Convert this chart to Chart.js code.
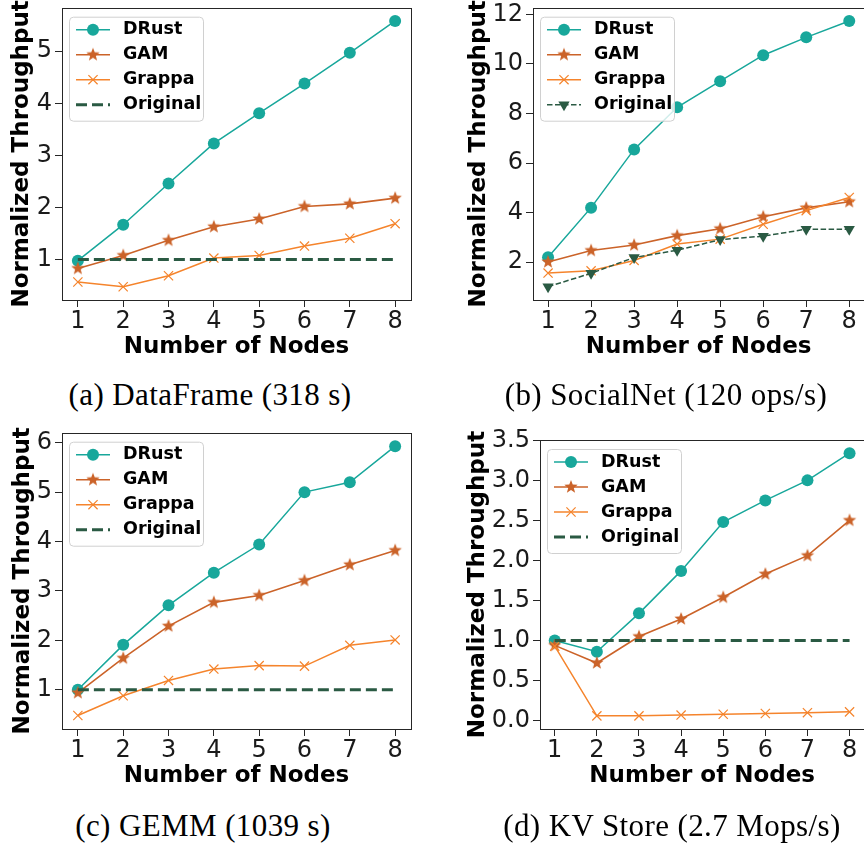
<!DOCTYPE html>
<html>
<head>
<meta charset="utf-8">
<script src="https://cdn.jsdelivr.net/npm/chart.js@4"></script>
<style>
  html, body { margin: 0; padding: 0; background: #fff; width: 864px; height: 847px; overflow: hidden; position: relative; }
  canvas { position: absolute; }
  .cap { position: absolute; font-family: 'Liberation Serif', serif; font-size: 31px; letter-spacing: 0.4px; color: #000; white-space: nowrap; transform: translate(-50%, -50%); }
</style>
</head>
<body>
<canvas id="pa" width="440" height="365" style="left:0;top:0"></canvas>
<canvas id="pb" width="440" height="365" style="left:432px;top:0"></canvas>
<canvas id="pc" width="440" height="369" style="left:0;top:425px"></canvas>
<canvas id="pd" width="440" height="369" style="left:432px;top:425px"></canvas>
<div class="cap" style="left:210px;top:395px">(a) DataFrame (318 s)</div>
<div class="cap" style="left:666px;top:395px">(b) SocialNet (120 ops/s)</div>
<div class="cap" style="left:203px;top:826px">(c) GEMM (1039 s)</div>
<div class="cap" style="left:672px;top:826px">(d) KV Store (2.7 Mops/s)</div>
<script>
/* DATA */
const nodes = [1, 2, 3, 4, 5, 6, 7, 8]

// (a) DataFrame
const dfDrust = [0.98, 1.67, 2.46, 3.23, 3.81, 4.38, 4.97, 5.58]
const dfGam = [0.83, 1.08, 1.37, 1.63, 1.78, 2.02, 2.07, 2.18]
const dfGrappa = [0.57, 0.48, 0.69, 1.03, 1.08, 1.26, 1.41, 1.69]
const dfOrig = [1, 1, 1, 1, 1, 1, 1, 1]
const dfTicks = [1, 2, 3, 4, 5]

// (b) SocialNet
const snDrust = [2.2, 4.2, 6.55, 8.25, 9.3, 10.35, 11.07, 11.73]
const snGam = [2.01, 2.47, 2.69, 3.07, 3.35, 3.83, 4.19, 4.44]
const snGrappa = [1.56, 1.65, 2.07, 2.73, 2.93, 3.53, 4.08, 4.61]
const snOrig = [1.01, 1.55, 2.19, 2.48, 2.91, 3.05, 3.33, 3.33]
const snTicks = [2, 4, 6, 8, 10, 12]

// (c) GEMM
const gmDrust = [1.0, 1.91, 2.71, 3.37, 3.94, 5.0, 5.2, 5.93]
const gmGam = [0.94, 1.64, 2.29, 2.77, 2.91, 3.21, 3.53, 3.82]
const gmGrappa = [0.48, 0.88, 1.19, 1.42, 1.49, 1.48, 1.90, 2.01]
const gmOrig = [1, 1, 1, 1, 1, 1, 1, 1]
const gmTicks = [1, 2, 3, 4, 5, 6]

// (d) KV Store
const kvDrust = [1.0, 0.86, 1.34, 1.87, 2.48, 2.75, 3.0, 3.34]
const kvGam = [0.94, 0.72, 1.05, 1.27, 1.54, 1.83, 2.06, 2.50]
const kvGrappa = [0.93, 0.06, 0.06, 0.07, 0.08, 0.09, 0.10, 0.11]
const kvOrig = [1, 1, 1, 1, 1, 1, 1, 1]
const kvTicks = [0, 0.5, 1, 1.5, 2, 2.5, 3, 3.5]

/* STYLE */
const TEAL = '#18a79b', GAM = '#cb6329', GRAPPA = '#f5842c', ORIG = '#2a5a43'
const SANS = "'DejaVu Sans', sans-serif"

function makeStar(color, r) {
  const c = document.createElement('canvas')
  const s = Math.ceil(r * 2) + 2
  c.width = c.height = s
  const g = c.getContext('2d')
  g.fillStyle = color
  g.beginPath()
  for (let k = 0; k < 10; k++) {
    const rad = k % 2 ? r * 0.42 : r
    const ang = -Math.PI / 2 + k * Math.PI / 5
    g.lineTo(s / 2 + rad * Math.cos(ang), s / 2 + rad * Math.sin(ang))
  }
  g.closePath()
  g.fill()
  return c
}
const starImg = makeStar(GAM, 7)

const series = vals => nodes.map((n, i) => ({ x: n, y: vals[i] }))

const drust = v => ({ label: 'DRust', data: series(v), borderColor: TEAL, backgroundColor: TEAL,
  pointBackgroundColor: TEAL, pointBorderColor: TEAL, pointStyle: 'circle', pointRadius: 6,
  pointBorderWidth: 0, borderWidth: 1.5, order: 3 })
const gam = v => ({ label: 'GAM', data: series(v), borderColor: GAM, backgroundColor: GAM,
  pointBackgroundColor: GAM, pointBorderColor: GAM, pointStyle: starImg, pointRadius: 6,
  pointBorderWidth: 0, borderWidth: 1.6, order: 2 })
const grappa = v => ({ label: 'Grappa', data: series(v), borderColor: GRAPPA, backgroundColor: GRAPPA,
  pointBackgroundColor: GRAPPA, pointBorderColor: GRAPPA, pointStyle: 'crossRot', pointRadius: 6.5,
  pointBorderWidth: 1.2, borderWidth: 1.5, order: 1 })
const origFlat = v => ({ label: 'Original', data: series(v), borderColor: ORIG, backgroundColor: ORIG,
  pointRadius: 0, borderWidth: 3, borderDash: [11, 5], order: 0 })
const origTri = v => ({ label: 'Original', data: series(v), borderColor: ORIG, backgroundColor: ORIG,
  pointBackgroundColor: ORIG, pointBorderColor: ORIG, pointStyle: 'triangle', pointRotation: 180,
  pointRadius: 6.5, pointBorderWidth: 0, borderWidth: 1.5, borderDash: [5.5, 2.5], order: 0 })

/* legend box in the top-left corner of each plot */
const boxLegend = {
  id: 'boxLegend',
  afterDatasetsDraw(chart) {
    const ctx = chart.ctx, a = chart.chartArea
    const x0 = a.left + 7, y0 = a.top + 9, w = 134, h = 104
    ctx.save()
    ctx.beginPath()
    ctx.roundRect(x0 + 0.5, y0 + 0.5, w, h, 4)
    ctx.fillStyle = 'rgba(255,255,255,0.8)'
    ctx.fill()
    ctx.strokeStyle = '#d0d0d0'
    ctx.lineWidth = 1
    ctx.stroke()
    chart.data.datasets.forEach((ds, i) => {
      const y = y0 + 13 + i * 25
      ctx.strokeStyle = ds.borderColor
      ctx.lineWidth = ds.borderWidth
      ctx.setLineDash(ds.borderDash || [])
      ctx.beginPath()
      ctx.moveTo(x0 + 7, y)
      ctx.lineTo(x0 + 41, y)
      ctx.stroke()
      ctx.setLineDash([])
      if (ds.pointRadius > 0) {
        ctx.fillStyle = ds.pointBackgroundColor
        ctx.strokeStyle = ds.pointBorderColor
        ctx.lineWidth = ds.pointBorderWidth
        Chart.helpers.drawPoint(ctx, { pointStyle: ds.pointStyle, radius: ds.pointRadius,
          rotation: ds.pointRotation || 0, borderWidth: ds.pointBorderWidth }, x0 + 24, y)
      }
      ctx.fillStyle = '#000'
      ctx.font = 'bold 17.5px ' + SANS
      ctx.textBaseline = 'middle'
      ctx.textAlign = 'left'
      ctx.fillText(ds.label, x0 + 54, y)
    })
    ctx.restore()
  }
}

/* full frame round the plot area */
const frame = {
  id: 'frame',
  afterDraw(chart) {
    const ctx = chart.ctx, a = chart.chartArea
    ctx.save()
    ctx.strokeStyle = '#262626'
    ctx.lineWidth = 1
    ctx.strokeRect(Math.round(a.left) + 0.5, Math.round(a.top) + 0.5,
      Math.round(a.right - a.left), Math.round(a.bottom - a.top))
    ctx.restore()
  }
}

function makeChart(id, area, datasets, yTicks, yFmt, titleC) {
  const canvas = document.getElementById(id)
  const W = canvas.width, H = canvas.height
  const all = datasets.flatMap(d => d.data.map(p => p.y))
  const lo = Math.min(...all), hi = Math.max(...all), m = (hi - lo) * 0.05
  const tickFont = { family: SANS, size: 24 }
  return new Chart(canvas, {
    type: 'line',
    data: { datasets },
    options: {
      responsive: false,
      devicePixelRatio: 1,
      animation: false,
      layout: { padding: { left: 0, top: area.t, right: W - area.r, bottom: 0 } },
      plugins: { legend: { display: false }, tooltip: { enabled: false } },
      elements: { line: { tension: 0 } },
      scales: {
        x: {
          type: 'linear', min: 0.65, max: 8.35,
          afterBuildTicks: s => { s.ticks = nodes.map(v => ({ value: v })) },
          afterFit: s => { s.height = H - area.b; s.paddingLeft = s.paddingRight = 0 },
          grid: { display: true, drawOnChartArea: false, drawTicks: true, tickLength: 7, color: '#262626' },
          border: { display: false },
          ticks: { font: tickFont, color: '#1a1a1a', padding: 0, maxRotation: 0 },
          title: { display: true, text: 'Number of Nodes', color: '#000',
            font: { family: SANS, size: 23, weight: 'bold' }, padding: { top: 0, bottom: 4 } }
        },
        y: {
          type: 'linear', min: lo - m, max: hi + m,
          afterBuildTicks: s => { s.ticks = yTicks.map(v => ({ value: v })) },
          afterFit: s => { s.width = area.l; s.paddingTop = s.paddingBottom = 0 },
          grid: { display: true, drawOnChartArea: false, drawTicks: true, tickLength: 7, color: '#262626' },
          border: { display: false },
          ticks: { font: tickFont, color: '#1a1a1a', padding: 3, callback: yFmt },
          title: { display: true, text: 'Normalized Throughput', color: '#000',
            font: { family: SANS, size: 23, weight: 'bold' }, padding: { top: titleC - 13.8, bottom: 0 } }
        }
      }
    },
    plugins: [boxLegend, frame]
  })
}

const intFmt = v => String(v)
const oneDec = v => v.toFixed(1)

makeChart('pa', { l: 62, t: 2, r: 411, b: 300 },
  [drust(dfDrust), gam(dfGam), grappa(dfGrappa), origFlat(dfOrig)], dfTicks, intFmt, 22)
makeChart('pb', { l: 101, t: 4, r: 434, b: 300 },
  [drust(snDrust), gam(snGam), grappa(snGrappa), origTri(snOrig)], snTicks, intFmt, 47)
makeChart('pc', { l: 62, t: 6, r: 411, b: 304 },
  [drust(gmDrust), gam(gmGam), grappa(gmGrappa), origFlat(gmOrig)], gmTicks, intFmt, 23)
makeChart('pd', { l: 108, t: 15, r: 435, b: 304 },
  [drust(kvDrust), gam(kvGam), grappa(kvGrappa), origFlat(kvOrig)], kvTicks, oneDec, 46)
</script>
</body>
</html>
